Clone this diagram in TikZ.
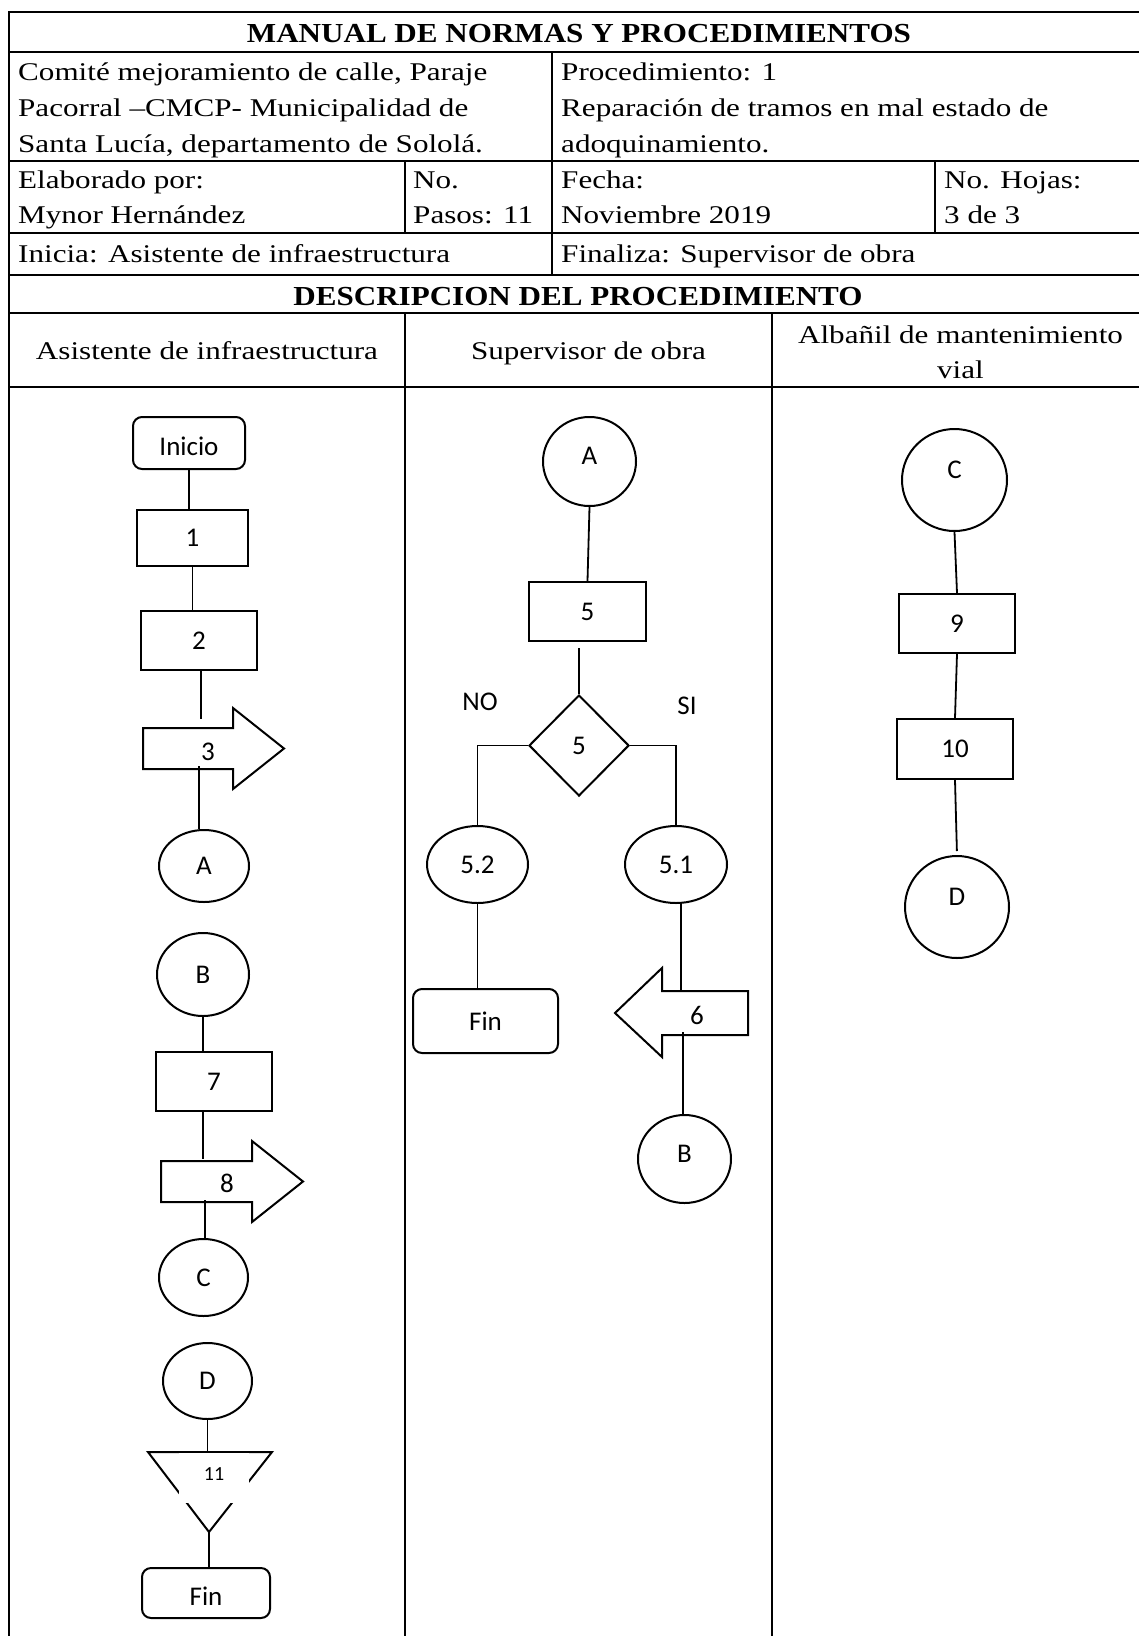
\documentclass[tikz,border=0pt]{standalone}
\usepackage{fontspec}
\setmainfont{Liberation Serif}[FakeStretch=1.22]
\newfontfamily\titlefont{Liberation Serif}[FakeStretch=1.13]
\newfontfamily\flowfont{Carlito}
\usetikzlibrary{shapes.geometric,positioning}
\tikzset{
  celda/.style={anchor=base west,inner sep=0pt,font=\fontsize{25.5}{35.5}\selectfont},
  encabezado/.style={anchor=base,inner sep=0pt,font=\fontsize{25.5}{35.5}\selectfont},
  titulo/.style={encabezado,font=\titlefont\fontsize{27.5}{35.5}\selectfont\bfseries},
  flujo/.style={draw,line width=2pt,inner sep=0pt,font=\flowfont\fontsize{27}{32}\selectfont},
  caja/.style={flujo,rectangle},
  terminal/.style={flujo,rectangle,rounded corners=9pt},
  conector/.style={flujo,ellipse},
  decision/.style={flujo,diamond},
  rotulo/.style={inner sep=0pt,font=\flowfont\fontsize{27}{32}\selectfont},
  forma/.style={line width=2pt},
  linea/.style={line width=1.8pt},
  tabla/.style={line width=2.2pt}
}

\begin{document}
\begin{tikzpicture}[x=1pt,y=-1pt]
    \useasboundingbox (0,0) rectangle (1138,1636);

    % tabla del encabezado
    \draw[tabla] (9,1645) -- (9,12) -- (1149,12) -- (1149,1645);
    \foreach \y in {52,161,233,275,313,387}
        \draw[tabla] (9,\y) -- (1149,\y);
    \draw[tabla] (552,52) -- (552,275);
    \draw[tabla] (405,161) -- (405,233);
    \draw[tabla] (935,161) -- (935,233);
    \draw[tabla] (405,313) -- (405,1645);
    \draw[tabla] (772,313) -- (772,1645);

    \node[titulo] (manual) at (579,42.5) {MANUAL DE NORMAS Y PROCEDIMIENTOS};
    \node[celda] (com1) at (18,80.7) {Comité mejoramiento de calle, Paraje};
    \node[celda] (com2) at (18,116.5) {Pacorral –CMCP- Municipalidad de};
    \node[celda] (com3) at (18,152) {Santa Lucía, departamento de Sololá.};
    \node[celda] (proc1) at (561,80.7) {Procedimiento: 1};
    \node[celda] (proc2) at (561,116.5) {Reparación de tramos en mal estado de};
    \node[celda] (proc3) at (561,152) {adoquinamiento.};
    \node[celda] (elab1) at (18,188.3) {Elaborado por:};
    \node[celda] (elab2) at (18,223.3) {Mynor Hernández};
    \node[celda] (pasos1) at (413,188.3) {No.};
    \node[celda] (pasos2) at (413,223.3) {Pasos: 11};
    \node[celda] (fecha1) at (561,188.3) {Fecha:};
    \node[celda] (fecha2) at (561,223.3) {Noviembre 2019};
    \node[celda] (hojas1) at (944,188.3) {No. Hojas:};
    \node[celda] (hojas2) at (944,223.3) {3 de 3};
    \node[celda] (inicia) at (18,262.7) {Inicia: Asistente de infraestructura};
    \node[celda] (finaliza) at (561,262.7) {Finaliza: Supervisor de obra};
    \node[titulo] (descripcion) at (578,305.5) {DESCRIPCION DEL PROCEDIMIENTO};
    \node[encabezado] (asistente) at (207,359) {Asistente de infraestructura};
    \node[encabezado] (supervisor) at (588.5,359) {Supervisor de obra};
    \node[encabezado] (albanil1) at (960.5,343) {Albañil de mantenimiento};
    \node[encabezado] (albanil2) at (960.5,378) {vial};

    % asistente de infraestructura
    \node[terminal,minimum width=112pt,minimum height=52pt,text height=25pt] (ini) at (189,443) {Inicio};
    \node[caja,minimum width=111pt,minimum height=56pt] (p1) at (192.5,538) {1};
    \node[caja,minimum width=116pt,minimum height=59pt] (p2) at (199,640.5) {2};
    \draw[forma] (143,728) -- (233,728) -- (233,708) -- (284,748.5) -- (233,789) -- (233,769) -- (143,769) -- cycle;
    \node[rotulo] (p3) at (208,752) {3};
    \coordinate (p3n) at (201,719);
    \coordinate (p3s) at (199,766);
    \node[conector,minimum width=90pt,minimum height=72pt] (A1) at (204,866) {A};

    \node[conector,minimum width=92pt,minimum height=83pt] (B1) at (203,974.5) {B};
    \node[caja,minimum width=116pt,minimum height=59pt] (p7) at (214,1081.5) {7};
    \draw[forma] (161,1161) -- (252,1161) -- (252,1141) -- (303,1181.5) -- (252,1222) -- (252,1202) -- (161,1202) -- cycle;
    \node[rotulo] (p8) at (227,1183) {8};
    \coordinate (p8n) at (203,1159);
    \coordinate (p8s) at (205,1200);
    \node[conector,minimum width=89pt,minimum height=77pt] (C1) at (203.5,1277.5) {C};

    \node[conector,minimum width=89pt,minimum height=76pt] (D1) at (207.5,1381) {D};
    \draw[forma] (148,1452) -- (272,1452) -- (209,1532) -- cycle;
    \node[fill=white,inner sep=0pt,minimum width=70pt,minimum height=50pt,text depth=7pt,
          font=\flowfont\fontsize{20}{24}\selectfont] (p11) at (214,1477.5) {11};
    \coordinate (p11v) at (209,1532);
    \node[terminal,minimum width=128pt,minimum height=50pt,text height=25pt] (fin1) at (206,1593) {Fin};

    \draw[linea] (ini.south) -- (ini.south |- p1.north);
    \draw[linea] (p1.south) -- (p1.south |- p2.north);
    \draw[linea] (p2.south -| p3n) -- (p3n);
    \draw[linea] (p3s) -- (p3s |- A1.north);
    \draw[linea] (B1.south) -- (B1.south |- p7.north);
    \draw[linea] (p7.south -| p8n) -- (p8n);
    \draw[linea] (p8s) -- (p8s |- C1.north);
    \draw[linea] (D1.south) -- (D1.south |- p11.north);
    \draw[linea] (p11v) -- (p11v |- fin1.north);

    % supervisor de obra
    \node[conector,minimum width=93pt,minimum height=89pt,text depth=11pt] (A2) at (589.5,461.5) {A};
    \node[caja,minimum width=117pt,minimum height=59pt] (p5) at (587.5,611.5) {5};
    \node[decision,minimum width=100pt,minimum height=101pt] (d5) at (579,745.5) {5};
    \node[rotulo] (no) at (480,702) {NO};
    \node[rotulo] (si) at (687,706) {SI};
    \node[conector,minimum width=101pt,minimum height=77pt] (e52) at (477.5,864.5) {5.2};
    \node[conector,minimum width=102pt,minimum height=77pt] (e51) at (676,864.5) {5.1};
    \node[terminal,minimum width=145pt,minimum height=64pt] (fin2) at (485.5,1021) {Fin};
    \draw[forma] (748,991) -- (662,991) -- (662,968) -- (615,1013) -- (662,1057) -- (662,1035) -- (748,1035) -- cycle;
    \node[rotulo] (p6) at (697,1015) {6};
    \coordinate (p6n) at (681,991);
    \coordinate (p6s) at (683,1032);
    \node[conector,minimum width=93pt,minimum height=88pt,text depth=11pt] (B2) at (684.5,1159) {B};

    \draw[linea] (A2.south) -- (p5.north);
    \draw[linea,shorten <=6pt] (p5.south -| d5.north) -- (d5.north);
    \draw[linea] (d5.west) -| (e52.north);
    \draw[linea] (d5.east) -| (e51.north);
    \draw[linea] (e52.south) -- (e52.south |- fin2.north);
    \draw[linea] (e51.south -| p6n) -- (p6n);
    \draw[linea] (p6s) -- (p6s |- B2.north);

    % albanil de mantenimiento vial
    \node[conector,minimum width=105pt,minimum height=102pt,text depth=20pt] (C3) at (954.5,480) {C};
    \node[caja,minimum width=116pt,minimum height=59pt] (p9) at (957,623.5) {9};
    \node[caja,minimum width=116pt,minimum height=60pt] (p10) at (955,749) {10};
    \node[conector,minimum width=104pt,minimum height=102pt,text depth=20pt] (D3) at (957,907) {D};

    \draw[linea] (C3.south) -- (p9.north);
    \draw[linea] (p9.south) -- (p10.north);
    \draw[linea,shorten >=4pt] (p10.south) -- (D3.north);
\end{tikzpicture}
\end{document}
